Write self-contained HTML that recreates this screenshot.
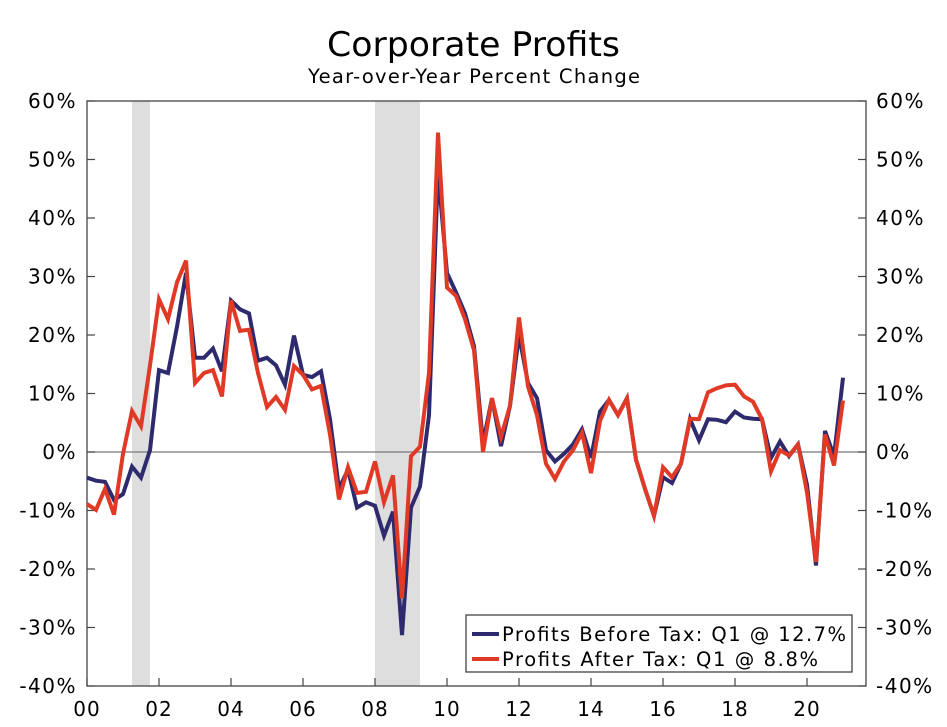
<!DOCTYPE html>
<html><head><meta charset="utf-8"><style>
html,body{margin:0;padding:0;background:#fff;}
svg{display:block;font-family:"DejaVu Sans","Liberation Sans",sans-serif;}
</style></head><body>
<svg id="chart" width="947" height="727" viewBox="0 0 947 727">
<text x="327" y="56" textLength="293" lengthAdjust="spacingAndGlyphs" font-size="34" fill="#000">Corporate Profits</text>
<text x="308" y="83" textLength="332" lengthAdjust="spacing" font-size="19.5" fill="#000">Year-over-Year Percent Change</text>
<g id="rec"></g>
<g id="axes"></g>
<g id="lines"></g>
<g>
<rect x="466" y="615" width="386" height="57" fill="#fff" stroke="#333" stroke-width="1.2"/>
<line x1="472" y1="634" x2="499" y2="634" stroke="#2e2a6e" stroke-width="4"/>
<text x="502" y="641" textLength="344" lengthAdjust="spacing" font-size="19.5">Profits Before Tax: Q1 @ 12.7%</text>
<line x1="472" y1="659" x2="499" y2="659" stroke="#e03a26" stroke-width="4"/>
<text x="502" y="666" textLength="316" lengthAdjust="spacing" font-size="19.5">Profits After Tax: Q1 @ 8.8%</text>
</g>
</svg>
<script>
const startYear = 2000;
const yTicks = [60,50,40,30,20,10,0,-10,-20,-30,-40];
const xTickYears = [2000,2002,2004,2006,2008,2010,2012,2014,2016,2018,2020];
const xTickLabels = ["00","02","04","06","08","10","12","14","16","18","20"];
const recessions = [[2001.25,2001.75],[2008.0,2009.25]];
const beforeTax = [-4.4,-4.9,-5.1,-8.2,-7.2,-2.5,-4.4,0.3,14,13.5,21.4,30.6,16.1,16.1,17.7,13.8,25.9,24.4,23.7,15.6,16.1,14.8,11.5,19.9,13.2,12.8,13.8,5.6,-6.3,-3,-9.5,-8.6,-9.2,-14.3,-10.2,-31.3,-9.5,-5.9,6.3,48,30.6,27.3,23.7,18.1,1.5,9.2,1,7.9,20,11.8,9.2,0.3,-1.6,-0.3,1.3,3.9,-1,6.9,8.9,6.3,9.2,-1.3,-6.3,-10.9,-4.3,-5.3,-2,5.6,2,5.6,5.5,5.1,6.9,5.9,5.7,5.6,-1,1.8,-0.7,1.3,-5.6,-19.4,3.6,-0.7,12.7];
const afterTax = [-8.9,-9.9,-6.3,-10.7,-0.3,7,4.4,14.8,26.1,22.7,29,32.7,11.8,13.5,14,9.5,25.9,20.7,20.9,13.5,7.7,9.4,7.2,14.7,13.2,10.7,11.3,3,-8.1,-2.6,-7,-6.8,-1.6,-8.6,-4,-25,-0.7,0.9,13.5,54.6,28.1,26.7,22.7,17.4,0,9.2,2.6,7.9,23,11.2,6.3,-2,-4.6,-1.6,0.3,3.3,-3.6,5.3,8.9,6.3,9.2,-1.3,-6.3,-10.9,-2.6,-4.3,-2,5.7,5.6,10.2,10.9,11.4,11.5,9.5,8.6,5.6,-3.3,0.3,-0.6,1.3,-6.9,-18.8,3,-2.3,8.8];

const NS="http://www.w3.org/2000/svg";
const L=87,R=866,T=101,B=686;
const xs=y=>L+(y-2000)*36;
const ys=v=>452-5.85*v;
function mk(t,a,p){const e=document.createElementNS(NS,t);for(const k in a)e.setAttribute(k,a[k]);p.appendChild(e);return e;}
const rec=document.getElementById('rec');
recessions.forEach(r=>{
  const e=mk('rect',{x:xs(r[0]),y:T,width:xs(r[1])-xs(r[0]),height:B-T,fill:'#dedede'},rec);
  
  
});
const ax=document.getElementById('axes');
const frame=mk('rect',{x:L,y:T,width:R-L,height:B-T,fill:'none',stroke:'#444','stroke-width':1.3},ax);


const zl=mk('line',{x1:L,x2:R,y1:ys(0),y2:ys(0),stroke:'#777','stroke-width':1.3},ax);


yTicks.forEach(v=>{
  const y=ys(v);
  mk('line',{x1:L,x2:L+8,y1:y,y2:y,stroke:'#444','stroke-width':1.2},ax);
  mk('line',{x1:R-8,x2:R,y1:y,y2:y,stroke:'#444','stroke-width':1.2},ax);
  const t1=mk('text',{x:77,y:y+7,'text-anchor':'end','font-size':20,'letter-spacing':1.5},ax);t1.textContent=v+'%';
  
  
  const t2=mk('text',{x:876,y:y+7,'text-anchor':'start','font-size':20,'letter-spacing':1.5},ax);t2.textContent=v+'%';
  
  
});
xTickYears.forEach((yr,i)=>{
  const x=xs(yr);
  mk('line',{x1:x,x2:x,y1:B,y2:B-8,stroke:'#444','stroke-width':1.2},ax);
  const t=mk('text',{x:x,y:716,'text-anchor':'middle','font-size':20,'letter-spacing':1},ax);t.textContent=xTickLabels[i];
  
  
});
const lg=document.getElementById('lines');
function series(d,c,n){
  const pts=d.map((v,i)=>xs(startYear+i/4).toFixed(1)+','+ys(v).toFixed(1)).join(' ');
  const p=mk('polyline',{points:pts,fill:'none',stroke:c,'stroke-width':4,'stroke-linejoin':'miter'},lg);
  
  
}
series(beforeTax,'#2e2a6e','line-profits-before-tax');
series(afterTax,'#e03a26','line-profits-after-tax');
</script>
</body></html>
